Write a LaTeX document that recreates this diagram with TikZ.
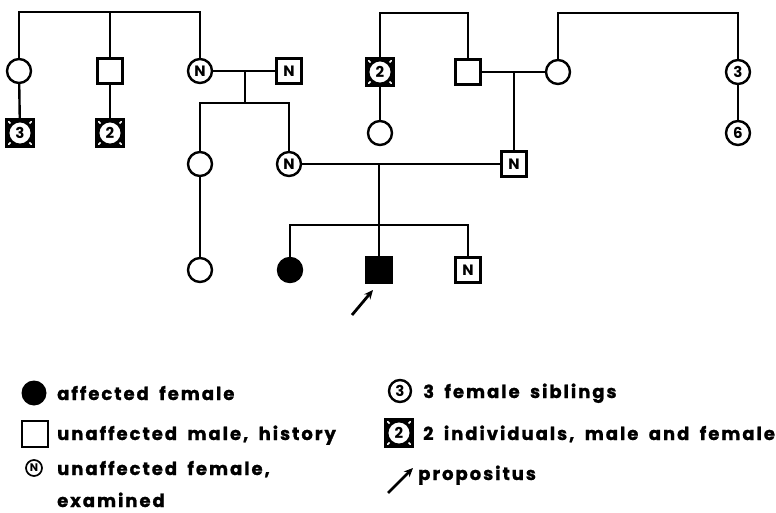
\documentclass[tikz,border=0pt]{standalone}
\usepackage{fontspec}
\setmainfont{Poppins}
\newfontfamily\legfont[LetterSpace=11,WordSpace=1.8,FakeBold=1.2]{Poppins}
\usetikzlibrary{arrows.meta}
\tikzset{
  lw/.style={line width=2.4pt},
  fem/.style={circle,draw,lw,minimum size=24pt,inner sep=0pt,font=\bfseries\fontsize{15}{15}\selectfont},
  mal/.style={rectangle,draw,lw,minimum size=25pt,inner sep=0pt,font=\bfseries\fontsize{15}{15}\selectfont},
  aff/.style={fill=black},
  multi/.style={rectangle,draw,lw,minimum size=27pt,inner sep=0pt,font=\bfseries\fontsize{15}{15}\selectfont,
    path picture={
      \fill[black,even odd rule] (path picture bounding box.south west) rectangle (path picture bounding box.north east)
        (path picture bounding box.center) circle (12.5pt);
      \draw[lw] (path picture bounding box.center) circle (11.8pt);
      \draw[white,line width=1.6pt] ([shift={(4pt,-4pt)}]path picture bounding box.north west) -- ++(-3pt,3pt);
      \draw[white,line width=1.6pt] ([shift={(-4pt,-4pt)}]path picture bounding box.north east) -- ++(3pt,3pt);
      \draw[white,line width=1.6pt] ([shift={(4pt,4pt)}]path picture bounding box.south west) -- ++(-3pt,-3pt);
      \draw[white,line width=1.6pt] ([shift={(-4pt,4pt)}]path picture bounding box.south east) -- ++(3pt,-3pt);
    }},
  conn/.style={lw},
  prop/.style={line width=2.8pt,-{Stealth[length=9pt,width=8pt]}},
  leg/.style={anchor=base west,inner sep=0pt,font=\legfont\bfseries\fontsize{18}{18}\selectfont}
}
\begin{document}
\begin{tikzpicture}[x=1pt,y=-1pt]
\useasboundingbox (0,0) rectangle (776,513);
% generation I / II left
\node[fem] (c1) at (19,71) {};
\node[mal] (m1) at (110,71) {};
\node[fem] (n1) at (200,71) {N};
\node[mal] (n2) at (289,71) {N};
\node[multi] (s3) at (20,133) {3};
\node[multi] (s2) at (110,133) {2};
\node[fem] (c2) at (200,164) {};
\node[fem] (n3) at (289,164) {N};
\node[fem] (c3) at (200,270) {};
% right
\node[multi] (s4) at (380,72) {2};
\node[mal] (m2) at (468,72) {};
\node[fem] (c4) at (558,72) {};
\node[fem] (c5) at (738,72) {3};
\node[fem] (c6) at (738,133) {6};
\node[fem] (c7) at (380,133) {};
\node[mal] (n4) at (514,164) {N};
% children
\node[fem,aff] (a1) at (290,270) {};
\node[mal,aff] (p1) at (379,270) {};
\node[mal] (n5) at (468,270) {N};
% junction coordinates
\coordinate (t1) at (110,12);
\coordinate (j1) at (245,71);
\coordinate (j1b) at (245,103);
\coordinate (t2) at (380,13);
\coordinate (t3) at (558,13);
\coordinate (j2) at (514,72);
\coordinate (j3) at (379,164);
\coordinate (j3b) at (379,225);
\coordinate (pa) at (352,315);
\coordinate (pb) at (373,290);
% connectors
\draw[conn] (c1) |- (t1) -| (n1);
\draw[conn] (m1) -- (t1);
\draw[conn] (c1) -- (s3);
\draw[conn] (m1) -- (s2);
\draw[conn] (n1) -- (n2);
\draw[conn] (j1) -- (j1b);
\draw[conn] (c2) |- (j1b) -| (n3);
\draw[conn] (c2) -- (c3);
\draw[conn] (s4) |- (t2) -| (m2);
\draw[conn] (s4) -- (c7);
\draw[conn] (m2) -- (c4);
\draw[conn] (j2) -- (n4);
\draw[conn] (c4) |- (t3) -| (c5);
\draw[conn] (c5) -- (c6);
\draw[conn] (n3) -- (n4);
\draw[conn] (j3) -- (p1);
\draw[conn] (a1) |- (j3b) -| (n5);
\draw[prop] (pa) -- (pb);
% legend
\node[circle,fill=black,minimum size=25pt,inner sep=0pt] (l1) at (34,393) {};
\node[mal,minimum size=26pt] (l2) at (35,434) {};
\node[circle,draw,line width=1.7pt,minimum size=16pt,inner sep=0pt,font=\bfseries\fontsize{11}{11}\selectfont] (l3) at (34,468) {N};
\node[leg] (t1l) at (57,400) {affected female};
\node[leg] (t2l) at (57,440) {unaffected male, history};
\node[leg] (t3l) at (57,475) {unaffected female,};
\node[leg] (t4l) at (57,507) {examined};
\node[fem,minimum size=22pt] (l4) at (400,391) {3};
\node[multi] (l5) at (399,433) {2};
\coordinate (la) at (388,493);
\coordinate (lb) at (413,468);
\draw[prop] (la) -- (lb);
\node[leg] (t5l) at (423,398) {3 female siblings};
\node[leg] (t6l) at (423,440) {2 individuals, male and female};
\node[leg] (t7l) at (418,480) {propositus};
\end{tikzpicture}
\end{document}
